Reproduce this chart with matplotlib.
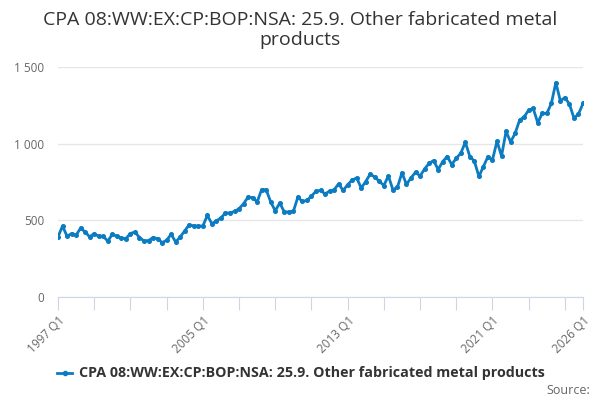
import matplotlib
matplotlib.use("Agg")
import matplotlib.pyplot as plt
import numpy as np

plt.rcParams['font.family'] = ['Open Sans', 'DejaVu Sans']

series_name = "CPA 08:WW:EX:CP:BOP:NSA: 25.9. Other fabricated metal products"
start_year = 1997

# quarterly values, 1997 Q1 onwards
values = [
    392, 463, 396, 414, 403, 450, 424, 392, 414, 396, 396, 364, 409, 396, 385, 381,
    414, 424, 388, 366, 368, 388, 381, 355, 370, 409, 359, 392, 431, 472, 463, 463,
    463, 532, 478, 496, 516, 548, 548, 558, 576, 608, 652, 648, 620, 701, 699, 620,
    562, 613, 555, 555, 558, 652, 623, 630, 658, 690, 695, 673, 690, 699, 738, 695,
    732, 764, 776, 711, 753, 803, 781, 755, 727, 790, 699, 716, 810, 734, 777, 814,
    789, 835, 872, 890, 831, 883, 916, 864, 905, 938, 1009, 916, 886, 786, 851, 916,
    894, 1016, 920, 1080, 1011, 1067, 1154, 1175, 1219, 1230, 1136, 1199, 1197, 1262, 1398, 1279,
    1301, 1258, 1167, 1193, 1262,
]
labels = ["%d Q%d" % (start_year + i // 4, i % 4 + 1) for i in range(len(values))]

label_idx = [0, 32, 64, 96, len(values) - 1]
tick_idx = list(range(0, len(values), 8)) + [len(values) - 1]
y_ticks = [0, 500, 1000, 1500]

blue = '#0b7cc1'
grey = '#666666'

fig = plt.figure(figsize=(6, 4), dpi=100)
ax = fig.add_axes([58 / 600, 1 - 297 / 400, 525 / 600, 230 / 400])

x = np.arange(len(values))
ax.plot(x, values, color=blue, lw=2, marker='o', markersize=2.6, zorder=3)

ax.set_xlim(0, len(values) - 1)
ax.set_ylim(0, 1500)
ax.set_yticks(y_ticks)
ax.set_yticklabels(["{:,}".format(v).replace(",", " ") for v in y_ticks],
                   color=grey, fontsize=8.5)
ax.grid(axis='y', color='#e6e6e6', lw=1)
ax.set_axisbelow(True)

ax.set_xticks(tick_idx)
ax.set_xticklabels([labels[i] if i in label_idx else "" for i in tick_idx],
                   rotation=45, ha='right', rotation_mode='anchor',
                   color=grey, fontsize=8.5)
ax.tick_params(axis='x', length=9, color='#ccd6eb', pad=3)
ax.tick_params(axis='y', length=0, pad=10)

for s in ['top', 'right', 'left']:
    ax.spines[s].set_visible(False)
ax.spines['bottom'].set_color('#ccd6eb')

fig.text(0.5, 0.972, "CPA 08:WW:EX:CP:BOP:NSA: 25.9. Other fabricated metal\nproducts",
         ha='center', va='top', fontsize=14, color='#333333', linespacing=1.15)

# legend
leg_y = 1 - 373 / 400
fig.lines.append(plt.Line2D([57 / 600, 72 / 600], [leg_y, leg_y],
                            color=blue, lw=2, transform=fig.transFigure))
fig.lines.append(plt.Line2D([64.5 / 600], [leg_y], color=blue,
                            marker='o', markersize=3, transform=fig.transFigure))
fig.text(79 / 600, leg_y, series_name, ha='left', va='center',
         fontsize=10.3, fontweight='bold', color='#333333')
fig.text(590 / 600, 1 - 390 / 400, "Source:", ha='right', va='center',
         fontsize=9, color=grey)

fig.savefig("out.png", dpi=100)
